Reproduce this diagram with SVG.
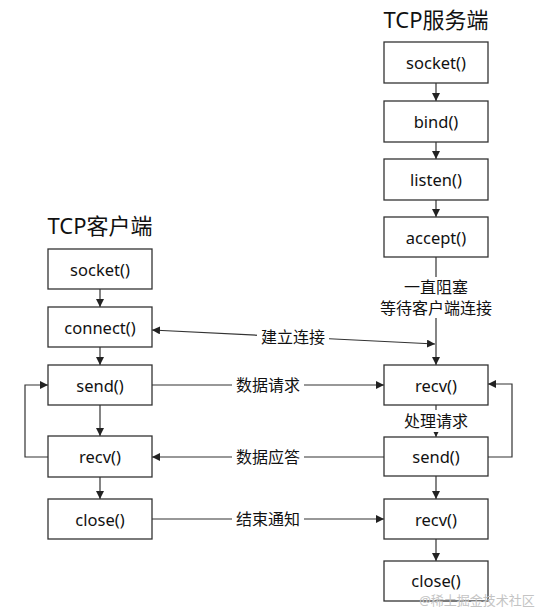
<svg xmlns="http://www.w3.org/2000/svg" width="540" height="613" viewBox="0 0 540 613">
<style>
.box rect{fill:#fff;stroke:#333;stroke-width:1.3}
text{font-family:"Noto Sans","Noto Sans CJK SC",sans-serif;fill:#111}
.lbl{font-size:16.5px;text-anchor:middle;dominant-baseline:central}
.title{font-size:22px;text-anchor:middle;dominant-baseline:central}
.edge{fill:none;stroke:#333;stroke-width:1.2;marker-end:url(#ah)}
.plain{fill:none;stroke:#333;stroke-width:1.2}
.note{font-size:16px;text-anchor:middle;dominant-baseline:central}
.bg{fill:#fff}
</style>
<defs>
<marker id="ah" viewBox="0 0 10 10" refX="10" refY="5" markerWidth="8" markerHeight="8" markerUnits="userSpaceOnUse" orient="auto">
<path d="M0,0 L10,5 L0,10 z" fill="#222"/>
</marker>
</defs>
<rect width="540" height="613" fill="#fff"/>
<text class="title" x="436" y="19">TCP服务端</text>
<text class="title" x="100" y="225">TCP客户端</text>

<g id="connectors">
<path class="edge" d="M436,83 V101"/>
<path class="edge" d="M436,142 V159"/>
<path class="edge" d="M436,200 V217"/>
<path class="plain" d="M436,257 V277"/>
<path class="edge" d="M436,318 V365"/>
<path class="edge" d="M436,405 V437"/>
<path class="edge" d="M436,476 V499"/>
<path class="edge" d="M436,539 V561"/>
<path class="edge" d="M100,289 V307"/>
<path class="edge" d="M100,347 V365"/>
<path class="edge" d="M100,405 V436"/>
<path class="edge" d="M100,477 V499"/>
<path class="edge" d="M294,337 L152,330"/>
<path class="edge" d="M294,337 L435,344"/>
<path class="edge" d="M152,385 H384"/>
<path class="edge" d="M384,457 H152"/>
<path class="edge" d="M152,519 H384"/>
<path class="edge" d="M48,457 H25 V385 H48"/>
<path class="edge" d="M488,457 H512 V384 H488"/>
</g>

<g id="labels">
<text class="note" x="436" y="287">一直阻塞</text>
<text class="note" x="436" y="308">等待客户端连接</text>
<rect class="bg" x="257" y="326" width="72" height="22"/>
<text class="note" x="293" y="337">建立连接</text>
<rect class="bg" x="232" y="374" width="72" height="22"/>
<text class="note" x="268" y="385">数据请求</text>
<rect class="bg" x="232" y="446" width="72" height="22"/>
<text class="note" x="268" y="457">数据应答</text>
<rect class="bg" x="232" y="508" width="72" height="22"/>
<text class="note" x="268" y="519">结束通知</text>
<rect class="bg" x="400" y="410" width="72" height="22"/>
<text class="note" x="436" y="421">处理请求</text>
</g>

<g id="s_socket" class="box"><rect x="384" y="42" width="104" height="41"/><text class="lbl" x="436" y="62.5">socket()</text></g>
<g id="s_bind" class="box"><rect x="384" y="101" width="104" height="41"/><text class="lbl" x="436" y="121.5">bind()</text></g>
<g id="s_listen" class="box"><rect x="384" y="159" width="104" height="41"/><text class="lbl" x="436" y="179.5">listen()</text></g>
<g id="s_accept" class="box"><rect x="384" y="217" width="104" height="40"/><text class="lbl" x="436" y="237">accept()</text></g>
<g id="s_recv1" class="box"><rect x="384" y="365" width="104" height="40"/><text class="lbl" x="436" y="385">recv()</text></g>
<g id="s_send" class="box"><rect x="384" y="437" width="104" height="39"/><text class="lbl" x="436" y="456.5">send()</text></g>
<g id="s_recv2" class="box"><rect x="384" y="499" width="104" height="40"/><text class="lbl" x="436" y="519">recv()</text></g>
<g id="s_close" class="box"><rect x="384" y="561" width="104" height="40"/><text class="lbl" x="436" y="580">close()</text></g>

<g id="c_socket" class="box"><rect x="48" y="249" width="104" height="40"/><text class="lbl" x="100" y="269">socket()</text></g>
<g id="c_connect" class="box"><rect x="48" y="307" width="104" height="40"/><text class="lbl" x="100" y="327">connect()</text></g>
<g id="c_send" class="box"><rect x="48" y="365" width="104" height="40"/><text class="lbl" x="100" y="385">send()</text></g>
<g id="c_recv" class="box"><rect x="48" y="436" width="104" height="41"/><text class="lbl" x="100" y="456.5">recv()</text></g>
<g id="c_close" class="box"><rect x="48" y="499" width="104" height="40"/><text class="lbl" x="100" y="519">close()</text></g>

<text x="477" y="600" font-size="13" style="fill:#c4c4c4" text-anchor="middle" dominant-baseline="central">@稀土掘金技术社区</text>
</svg>
